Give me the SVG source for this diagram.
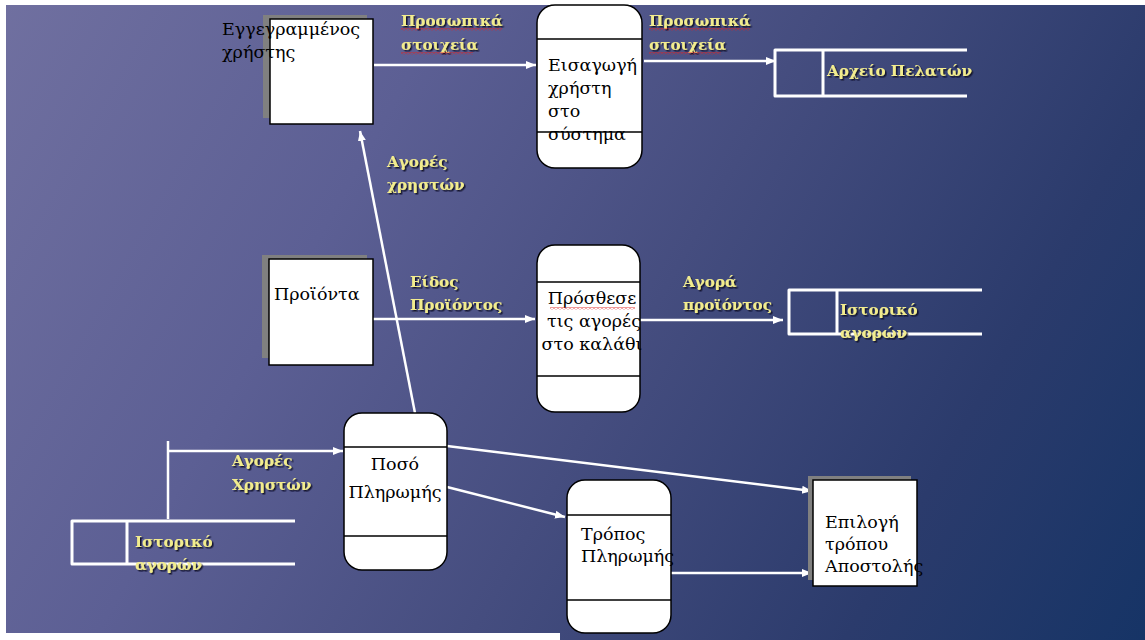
<svg xmlns="http://www.w3.org/2000/svg" width="1145" height="640" viewBox="0 0 1145 640">
<defs>
  <linearGradient id="bg" gradientUnits="userSpaceOnUse" x1="0" y1="0" x2="1145" y2="640">
    <stop offset="0" stop-color="#7070a0"/>
    <stop offset="0.3" stop-color="#5c5f94"/>
    <stop offset="0.55" stop-color="#454d7f"/>
    <stop offset="0.8" stop-color="#2b3b6c"/>
    <stop offset="1" stop-color="#163466"/>
  </linearGradient>
  <marker id="arr" viewBox="0 0 10 10" refX="10" refY="5" markerWidth="10" markerHeight="10" markerUnits="userSpaceOnUse" orient="auto">
    <path d="M0,1 L10,5 L0,9 z" fill="#fff"/>
  </marker>
  <pattern id="squig" width="4" height="3" patternUnits="userSpaceOnUse">
    <path d="M0,0.5 L2,2.5 L4,0.5" fill="none" stroke="#e02020" stroke-width="0.9"/>
  </pattern>
  <filter id="sh" x="-10%" y="-20%" width="130%" height="150%">
    <feDropShadow dx="1.5" dy="1.5" stdDeviation="0.4" flood-color="#101020" flood-opacity="0.9"/>
  </filter>
</defs>
<style>
  .node{font-family:"DejaVu Serif","Liberation Serif",serif;font-size:17.5px;fill:#000}
  .lbl{font-family:"DejaVu Serif","Liberation Serif",serif;font-size:15.2px;font-weight:bold;fill:#f2ec8e;filter:url(#sh)}
  .box{fill:#fff;stroke:#000;stroke-width:1.5}
  .shadow{fill:#808080}
  .proc{fill:#fff;stroke:#000;stroke-width:1.5}
  .div{stroke:#000;stroke-width:1.3}
  .store{fill:none;stroke:#fff;stroke-width:3;stroke-linejoin:round}
  .flow{fill:none;stroke:#fff;stroke-width:2.5;marker-end:url(#arr)}
  .plain{fill:none;stroke:#fff;stroke-width:2.5}
  .sq{fill:url(#squig)}
</style>
<rect width="1145" height="640" fill="#fff"/>
<polygon points="6,5 1145,5 1145,640 560,640 560,633 6,633" fill="url(#bg)"/>

<g id="connectors">
  <path class="flow" d="M374,65 L536,65"/>
  <path class="flow" d="M644,61 L776,61"/>
  <path class="flow" d="M373,319 L535,319"/>
  <path class="flow" d="M640,320 L783,320"/>
  <path class="flow" d="M415,413 L360,131"/>
  <path class="plain" d="M168,519 V441"/>
  <path class="flow" d="M168,451 H343"/>
  <path class="flow" d="M447,446 L812,491"/>
  <path class="flow" d="M447,487 L565,517"/>
  <path class="flow" d="M671,573 L812,573"/>
</g>

<g id="n-registered-user">
  <rect class="shadow" x="263" y="15" width="104" height="103"/>
  <rect class="box" x="270" y="19" width="103" height="105"/>
  <text class="node" x="222" y="35">Εγγεγραμμένος</text>
  <text class="node" x="222" y="58">χρήστης</text>
</g>

<g id="n-user-entry">
  <rect class="proc" x="537" y="5" width="105" height="163" rx="18"/>
  <line class="div" x1="537" y1="39" x2="642" y2="39"/>
  <line class="div" x1="537" y1="132" x2="642" y2="132"/>
  <text class="node" x="548" y="71">Εισαγωγή</text>
  <text class="node" x="548" y="94">χρήστη</text>
  <text class="node" x="548" y="117">στο</text>
  <text class="node" x="548" y="140">σύστημα</text>
</g>

<g id="n-customer-file">
  <path class="store" d="M967,50 H775 V96 H967 M823,50 V96"/>
  <text class="lbl" x="827" y="76">Αρχείο Πελατών</text>
</g>

<g id="n-products">
  <rect class="shadow" x="262" y="255" width="105" height="103"/>
  <rect class="box" x="269" y="259" width="104" height="106"/>
  <text class="node" x="274" y="300">Προϊόντα</text>
</g>

<g id="n-add-cart">
  <rect class="proc" x="537" y="245" width="103" height="167" rx="18"/>
  <line class="div" x1="537" y1="282" x2="640" y2="282"/>
  <line class="div" x1="537" y1="376" x2="640" y2="376"/>
  <text class="node" x="592" y="304" text-anchor="middle">Πρόσθεσε</text>
  <rect class="sq" x="550" y="307" width="85" height="3"/>
  <text class="node" x="594" y="327" text-anchor="middle">τις αγορές</text>
  <text class="node" x="592" y="350" text-anchor="middle">στο καλάθι</text>
</g>

<g id="n-purchase-history">
  <path class="store" d="M982,290 H789 V334 H982 M837,290 V334"/>
  <text class="lbl" x="840" y="315">Ιστορικό</text>
  <text class="lbl" x="840" y="338">αγορών</text>
</g>

<g id="n-payment-amount">
  <rect class="proc" x="344" y="413" width="103" height="157" rx="18"/>
  <line class="div" x1="344" y1="447" x2="447" y2="447"/>
  <line class="div" x1="344" y1="536" x2="447" y2="536"/>
  <text class="node" x="395" y="470" text-anchor="middle">Ποσό</text>
  <text class="node" x="395" y="498" text-anchor="middle">Πληρωμής</text>
</g>

<g id="n-payment-method">
  <rect class="proc" x="567" y="480" width="104" height="153" rx="18"/>
  <line class="div" x1="567" y1="515" x2="671" y2="515"/>
  <line class="div" x1="567" y1="600" x2="671" y2="600"/>
  <text class="node" x="581" y="540">Τρόπος</text>
  <text class="node" x="581" y="562">Πληρωμής</text>
</g>

<g id="n-shipping">
  <rect class="shadow" x="808" y="476" width="103" height="104"/>
  <rect class="box" x="813" y="480" width="104" height="106"/>
  <text class="node" x="825" y="528">Επιλογή</text>
  <text class="node" x="825" y="550">τρόπου</text>
  <text class="node" x="825" y="572">Αποστολής</text>
</g>

<g id="n-purchase-history-2">
  <path class="store" d="M295,521 H72 V564 H295 M127,521 V564"/>
  <text class="lbl" x="135" y="547">Ιστορικό</text>
  <text class="lbl" x="135" y="570">αγορών</text>
</g>

<g id="labels">
  <text class="lbl" x="401" y="26">Προσωπικά</text>
  <rect class="sq" x="401" y="28" width="101" height="3"/>
  <text class="lbl" x="401" y="50">στοιχεία</text>
  <rect class="sq" x="401" y="52" width="72" height="3"/>
  <text class="lbl" x="649" y="26">Προσωπικά</text>
  <rect class="sq" x="649" y="28" width="101" height="3"/>
  <text class="lbl" x="649" y="50">στοιχεία</text>
  <rect class="sq" x="649" y="52" width="72" height="3"/>
  <text class="lbl" x="387" y="167">Αγορές</text>
  <text class="lbl" x="387" y="190">χρηστών</text>
  <text class="lbl" x="410" y="287">Είδος</text>
  <text class="lbl" x="410" y="310">Προϊόντος</text>
  <text class="lbl" x="683" y="287">Αγορά</text>
  <text class="lbl" x="683" y="310">προϊόντος</text>
  <text class="lbl" x="232" y="466">Αγορές</text>
  <text class="lbl" x="232" y="490">Χρηστών</text>
</g>
</svg>
